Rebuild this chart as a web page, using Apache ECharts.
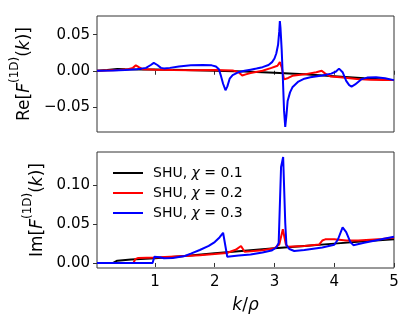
<!DOCTYPE html>
<html>
<head>
<meta charset="utf-8">
<script src="https://cdn.jsdelivr.net/npm/echarts@6/dist/echarts.min.js"></script>
<style>
  html, body { margin: 0; padding: 0; background: #fff; }
  #chart { width: 415px; height: 332px; }
</style>
</head>
<body>
<div id="chart"></div>
<script>
// legend labels
const chiValues = ['0.1', '0.2', '0.3'];

// tick values
const xTicks = [1, 2, 3, 4, 5];
const reTicks = [-0.05, 0, 0.05];
const imTicks = [0, 0.05, 0.10];

// Re[F(k)] curves, [k, value]
const reChi1 = [[0.03,0],[0.2,0.001],[0.37,0.0025],[0.5,0.002],[0.8,0.0018],[1.0,0.0017],[1.5,0.001],[2.0,0],[2.5,-0.0012],[3.0,-0.0028],[3.5,-0.005],[4.0,-0.0075],[4.5,-0.0103],[5.0,-0.013]];
const reChi2 = [[0.03,0],[0.4,0.001],[0.55,0.002],[0.63,0.004],[0.68,0.0075],[0.73,0.005],[0.8,0.002],[1.0,0.0015],[1.3,0.001],[1.6,0.0008],[2.0,0.001],[2.3,0.0005],[2.4,-0.002],[2.46,-0.0065],[2.52,-0.005],[2.6,-0.003],[2.8,0],[2.95,0.004],[3.05,0.007],[3.09,0.012],[3.12,0.005],[3.16,-0.012],[3.19,-0.014],[3.23,-0.01],[3.3,-0.007],[3.5,-0.005],[3.7,-0.002],[3.79,0],[3.85,-0.004],[3.94,-0.008],[4.1,-0.009],[4.38,-0.0115],[4.6,-0.0125],[4.83,-0.013],[5.0,-0.013]];
const reChi3 = [[0.03,0],[0.3,0.0005],[0.5,0.001],[0.7,0.002],[0.85,0.004],[0.93,0.008],[0.98,0.011],[1.04,0.008],[1.1,0.004],[1.15,0.0033],[1.25,0.004],[1.4,0.006],[1.6,0.0075],[1.8,0.008],[1.95,0.0075],[2.02,0.006],[2.07,0.002],[2.1,-0.006],[2.14,-0.018],[2.18,-0.027],[2.21,-0.022],[2.25,-0.011],[2.3,-0.006],[2.4,-0.002],[2.5,0],[2.6,0.0015],[2.7,0.003],[2.8,0.005],[2.9,0.008],[2.96,0.012],[3.0,0.017],[3.03,0.024],[3.06,0.036],[3.08,0.055],[3.09,0.069],[3.1,0.06],[3.12,0.03],[3.14,-0.01],[3.16,-0.055],[3.18,-0.078],[3.2,-0.062],[3.22,-0.042],[3.26,-0.03],[3.3,-0.023],[3.4,-0.015],[3.5,-0.011],[3.6,-0.009],[3.8,-0.0065],[3.95,-0.004],[4.03,-0.001],[4.08,0.003],[4.1,0.0045],[4.14,-0.002],[4.2,-0.014],[4.25,-0.02],[4.29,-0.022],[4.35,-0.019],[4.45,-0.012],[4.55,-0.0095],[4.7,-0.009],[4.85,-0.0105],[5.0,-0.013]];

// Im[F(k)] curves, [k, value]
const imChi1 = [[0.03,0],[0.3,0],[0.33,0.002],[0.37,0.003],[0.6,0.0045],[1.0,0.006],[1.5,0.009],[2.0,0.0125],[2.5,0.0158],[3.0,0.019],[3.5,0.022],[4.0,0.025],[4.5,0.028],[5.0,0.0305]];
const imChi2 = [[0.03,0],[0.64,0],[0.67,0.005],[0.72,0.0065],[1.0,0.007],[1.5,0.009],[1.75,0.010],[2.0,0.0115],[2.2,0.0128],[2.35,0.017],[2.44,0.022],[2.5,0.0146],[2.6,0.015],[2.8,0.0165],[3.0,0.019],[3.08,0.024],[3.14,0.0435],[3.19,0.024],[3.22,0.021],[3.5,0.022],[3.75,0.024],[3.8,0.029],[3.85,0.0305],[4.0,0.0305],[4.2,0.029],[4.4,0.029],[4.6,0.03],[4.8,0.031],[5.0,0.033]];
const imChi3 = [[0.03,0],[0.96,0],[0.99,0.008],[1.02,0.0094],[1.08,0.0075],[1.15,0.006],[1.3,0.0065],[1.5,0.009],[1.6,0.012],[1.75,0.0168],[1.9,0.022],[2.0,0.027],[2.08,0.033],[2.14,0.039],[2.21,0.008],[2.4,0.0095],[2.6,0.011],[2.8,0.0135],[2.95,0.016],[3.03,0.02],[3.07,0.026],[3.11,0.124],[3.145,0.137],[3.18,0.052],[3.2,0.023],[3.25,0.018],[3.33,0.0155],[3.5,0.0168],[3.8,0.02],[4.0,0.0235],[4.06,0.03],[4.14,0.046],[4.2,0.04],[4.27,0.027],[4.32,0.023],[4.5,0.026],[4.75,0.03],[5.0,0.034]];

const font = 'DejaVu Sans';
const frame = '#333';
const colors = ['#000000', '#ff0000', '#0000ff'];
const names = chiValues.map(c => 'SHU, {i|χ} = ' + c);

const tickFmt = v => {
  if (Math.abs(v) < 1e-9) return '0.00';
  return (v < 0 ? '\u2212' : '') + Math.abs(v).toFixed(2);
};

const nameRich = {
  n: { fontSize: 17, fontFamily: font, color: '#000', lineHeight: 24, verticalAlign: 'bottom' },
  i: { fontSize: 17, fontFamily: font, fontStyle: 'italic', color: '#000', lineHeight: 24, verticalAlign: 'bottom' },
  s: { fontSize: 12, fontFamily: font, color: '#000', lineHeight: 24, verticalAlign: 'top' }
};

const xAxisBase = {
  type: 'value',
  min: 0.03,
  max: 5,
  splitLine: { show: false },
  axisLine: { show: false },
  axisTick: { show: true, length: 4, customValues: xTicks, lineStyle: { color: frame } }
};

const chart = echarts.init(document.getElementById('chart'));
chart.setOption({
  animation: false,
  grid: [
    { left: 97, top: 16, width: 297, height: 116, show: true, borderColor: frame, borderWidth: 1 },
    { left: 97, top: 152, width: 297, height: 116, show: true, borderColor: frame, borderWidth: 1 }
  ],
  legend: {
    data: names,
    orient: 'vertical',
    left: 108,
    top: 158,
    icon: 'rect',
    itemWidth: 30,
    itemHeight: 2,
    itemGap: 0,
    selectedMode: false,
    textStyle: {
      fontFamily: font, fontSize: 14, color: '#000', lineHeight: 20, padding: [0, 0, 0, 5],
      rich: { i: { fontFamily: font, fontSize: 14, fontStyle: 'italic', lineHeight: 20 } }
    }
  },
  xAxis: [
    Object.assign({ gridIndex: 0, axisLabel: { show: false } }, xAxisBase),
    Object.assign({
      gridIndex: 1,
      axisLabel: { customValues: xTicks, margin: 7, fontSize: 15, fontFamily: font, color: '#000' },
      name: '{i|k}{n|/}{i|ρ}',
      nameLocation: 'middle',
      nameGap: 22,
      nameTextStyle: { rich: nameRich }
    }, xAxisBase)
  ],
  yAxis: [
    {
      type: 'value', gridIndex: 0, min: -0.085, max: 0.076,
      splitLine: { show: false }, axisLine: { show: false },
      axisTick: { show: true, length: 4, customValues: reTicks, lineStyle: { color: frame } },
      axisLabel: { customValues: reTicks, formatter: tickFmt, margin: 7, fontSize: 15, fontFamily: font, color: '#000' },
      name: '{n|Re[}{i|F}{s|(1D)}{n|(}{i|k}{n|)]}',
      nameLocation: 'middle', nameRotate: 90, nameGap: 51,
      nameTextStyle: { rich: nameRich }
    },
    {
      type: 'value', gridIndex: 1, min: -0.0065, max: 0.1434,
      splitLine: { show: false }, axisLine: { show: false },
      axisTick: { show: true, length: 4, customValues: imTicks, lineStyle: { color: frame } },
      axisLabel: { customValues: imTicks, formatter: tickFmt, margin: 7, fontSize: 15, fontFamily: font, color: '#000' },
      name: '{n|Im[}{i|F}{s|(1D)}{n|(}{i|k}{n|)]}',
      nameLocation: 'middle', nameRotate: 90, nameGap: 37,
      nameTextStyle: { rich: nameRich }
    }
  ],
  series: [
    [reChi1, 0], [reChi2, 1], [reChi3, 2]
  ].map(([d, c]) => ({
    type: 'line', xAxisIndex: 0, yAxisIndex: 0, data: d, name: names[c],
    symbol: 'none', color: colors[c], lineStyle: { width: 2, color: colors[c] }
  })).concat([
    [imChi1, 0], [imChi2, 1], [imChi3, 2]
  ].map(([d, c]) => ({
    type: 'line', xAxisIndex: 1, yAxisIndex: 1, data: d, name: names[c],
    symbol: 'none', color: colors[c], lineStyle: { width: 2, color: colors[c] }
  })))
});
</script>
</body>
</html>
